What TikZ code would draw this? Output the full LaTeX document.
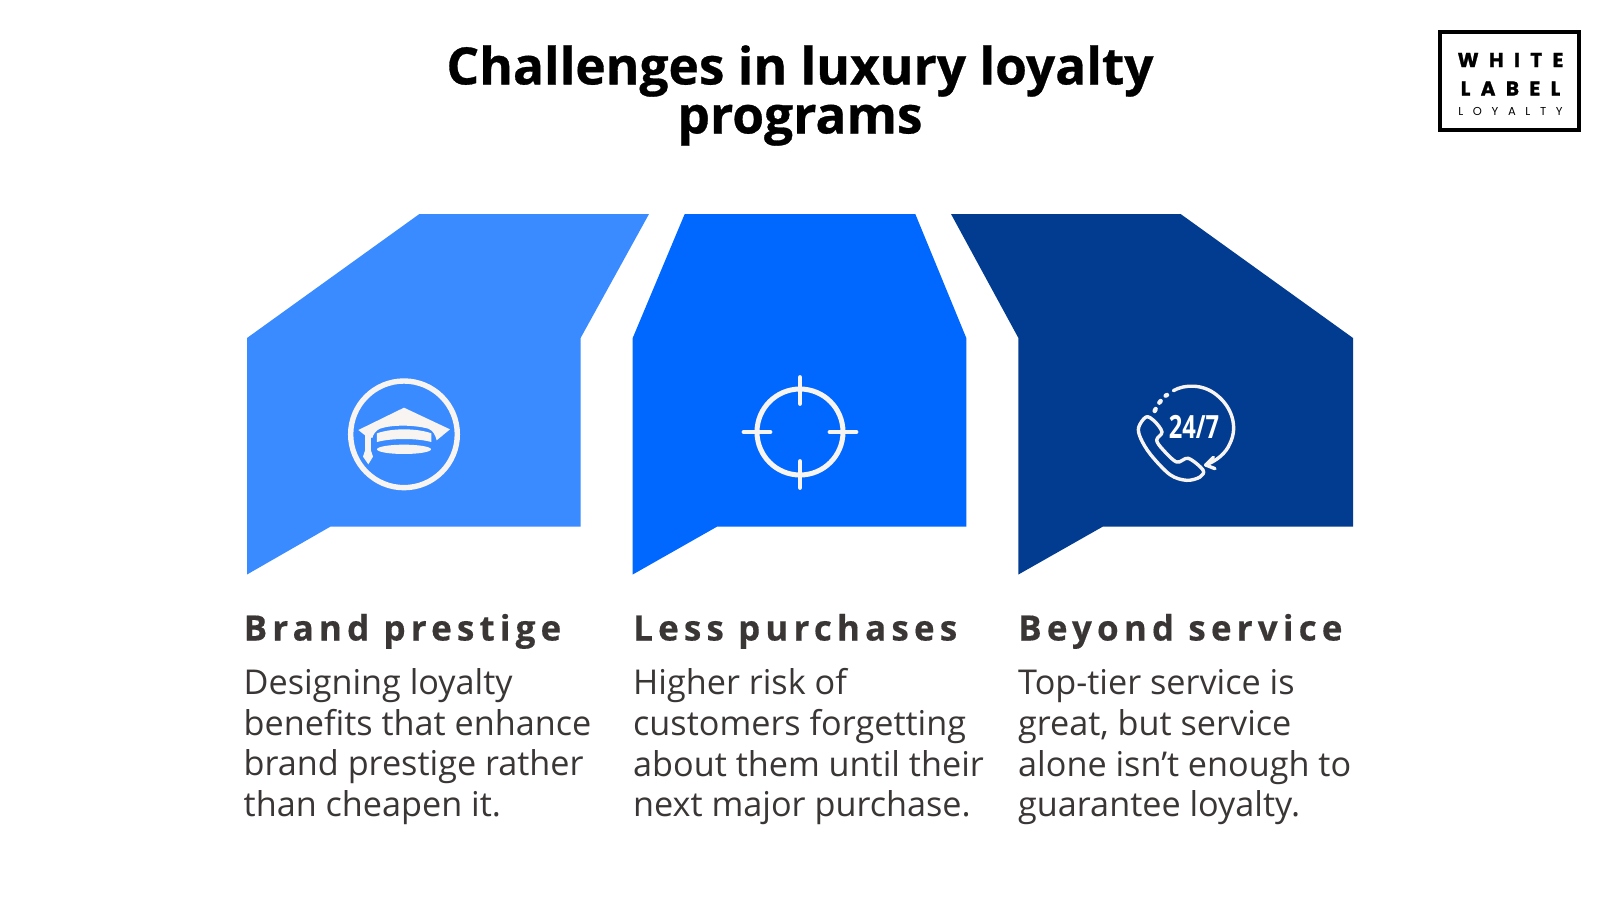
\documentclass[tikz,border=0pt]{standalone}
\usepackage{fontspec}
\setmainfont{Open Sans}
\newfontfamily\titlefont[FakeBold=0.6]{Open Sans Bold}
\newfontfamily\headfont[LetterSpace=14.7,FakeBold=0.4]{Open Sans}
\newfontfamily\logofont[LetterSpace=52,FakeBold=1.2]{Poppins}
\newfontfamily\logosmall[LetterSpace=84]{Poppins}
\usetikzlibrary{arrows.meta,positioning,calc}
\definecolor{lightblue}{HTML}{3A8BFF}
\definecolor{midblue}{HTML}{0068FF}
\definecolor{darkblue}{HTML}{023C90}
\definecolor{icongrey}{HTML}{F7F4F2}
\definecolor{inktext}{HTML}{3A3635}

\begin{document}
\begin{tikzpicture}[
  x=1pt, y=-1pt,
  every node/.style={align=left, inner sep=0pt},
  titletext/.style={align=center, font=\fontsize{51.4}{49}\titlefont},
  headtext/.style={anchor=base west, text=inktext, font=\fontsize{35}{40}\headfont\bfseries},
  bodytext/.style={anchor=north west, text=inktext, font=\fontsize{34.2}{40.8}\selectfont},
  logoline/.style={anchor=base, font=\fontsize{20}{20}\logofont\bfseries},
  iconline/.style={draw=icongrey, line cap=round, line join=round},
  iconfill/.style={fill=icongrey}
]
\useasboundingbox[fill=white] (0,0) rectangle (1600,900);

% --- Title and logo
\node[titletext] (title) at (800,95.5) {Challenges in luxury loyalty\\programs};

\draw[line width=4.8pt] (1440,32) rectangle (1579,130);
\node[logoline] (white) at (1510.5,67) {WHITE};
\node[logoline] (label) at (1510.5,95.5) {LABEL};
\node[anchor=base, font=\fontsize{11.5}{12}\logosmall] (loyalty) at (1510.5,115) {LOYALTY};

% --- Blocks
\fill[lightblue] (419.4,214) -- (649,214) -- (580.6,338) -- (580.6,526.5)
  -- (330.6,526.5) -- (247,574.5) -- (247,338) -- cycle;
\fill[midblue] (684.7,214) -- (915.3,214) -- (966.3,338) -- (966.3,526.5)
  -- (717.3,526.5) -- (632.7,574.5) -- (632.7,338) -- cycle;
\fill[darkblue] (951,214) -- (1180.6,214) -- (1353,338) -- (1353,526.5)
  -- (1103,526.5) -- (1018.4,574.5) -- (1018.4,338) -- cycle;

% --- Cap icon
\begin{scope}[shift={(320,360)}, x=0.3333pt, y=-0.3333pt]
  \draw[iconline, line width=5.4pt] (252,223) circle[radius=160];
  \fill[iconfill] (252,143) -- (390,208) -- (350,241)
    .. controls (346,225) and (340,212) .. (325,206)
    .. controls (280,194) and (215,194) .. (180,206)
    .. controls (168,211) and (160,222) .. (157,234)
    -- (135,226) -- (115,210) -- cycle;
  \fill[iconfill] (135,224) -- (153,232) -- (153,272) -- (159,290) -- (145,313)
    -- (129,290) -- (135,272) -- cycle;
  \fill[iconfill] (171,220) .. controls (215,204) and (290,204) .. (334,220)
    -- (334,246) .. controls (290,234) and (215,234) .. (171,246) -- cycle;
  \fill[iconfill] (252,268) ellipse[x radius=81, y radius=14];
\end{scope}

% --- Target icon
\coordinate (aim) at (800,432);
\draw[iconline, line width=5pt] (aim) circle[radius=43];
\draw[iconline, line width=4.8pt] ($(aim)+(0,-54.5)$) -- +(0,26);
\draw[iconline, line width=4.8pt] ($(aim)+(0,29.5)$) -- +(0,26);
\draw[iconline, line width=4.8pt] ($(aim)+(-56,0)$) -- +(26,0);
\draw[iconline, line width=4.8pt] ($(aim)+(30,0)$) -- +(26,0);

% --- Phone icon
\begin{scope}[shift={(1120,370)}, x=0.3333pt, y=-0.3333pt]
  \draw[iconline, line width=3.4pt] (160,62)
    .. controls (195,42) and (250,42) .. (290,75)
    .. controls (335,110) and (355,170) .. (330,220)
    .. controls (318,250) and (290,272) .. (257,285);
  \draw[iconline, line width=3.4pt] (280,262) -- (257,285) -- (285,296);
  \draw[iconline, line width=4.4pt] (141,75) -- (137,77);
  \draw[iconline, line width=4.4pt] (122,93) -- (118,98);
  \draw[iconline, line width=4.4pt] (107,117) -- (104,123);
  \draw[iconline, line width=3.4pt] plot[smooth cycle, tension=0.55] coordinates {
    (78,141) (56,172) (62,205) (92,254) (150,314) (200,331) (240,321) (249,300)
    (205,265) (170,276) (128,238) (110,210) (126,186) (102,152)};
  \node[text=white, font=\fontsize{32}{32}\selectfont\bfseries] (clock) at (222,170) {\scalebox{0.74}[1]{24/7}};
\end{scope}

% --- Text columns
\node[headtext] (brandhead) at (243.5,640.5) {Brand prestige};
\node[headtext] (lesshead) at (633,640.5) {Less purchases};
\node[headtext] (beyondhead) at (1018,640.5) {Beyond service};

\node[bodytext, below=19pt of brandhead.south west, anchor=north west] (brandbody)
  {Designing loyalty\\benefits that enhance\\brand prestige rather\\than cheapen it.};
\node[bodytext, below=19pt of lesshead.south west, anchor=north west] (lessbody)
  {Higher risk of\\customers forgetting\\about them until their\\next major purchase.};
\node[bodytext, below=20pt of beyondhead.south west, anchor=north west] (beyondbody)
  {Top-tier service is\\great, but service\\alone isn’t enough to\\guarantee loyalty.};
\end{tikzpicture}
\end{document}
